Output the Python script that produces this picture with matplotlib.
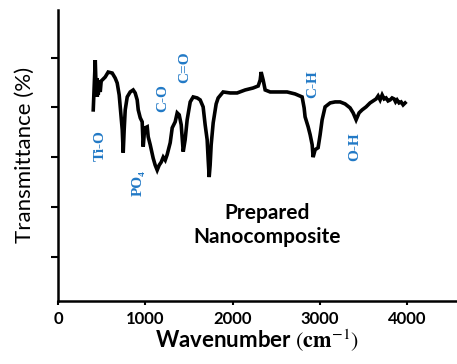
import matplotlib
matplotlib.use("Agg")
import matplotlib.pyplot as plt

# FTIR spectrum
wavenumber = [403, 426, 437, 443, 449, 455, 460, 471, 483, 494, 506, 540, 574, 620,
              654, 677, 700, 712, 735, 746, 757, 769, 792, 826, 860, 883, 906, 918,
              941, 963, 975, 986, 998, 1021, 1032, 1055, 1089, 1112, 1135, 1158, 1181,
              1204, 1227, 1249, 1284, 1307, 1341, 1364, 1387, 1410, 1433, 1455, 1478,
              1513, 1547, 1593, 1627, 1661, 1684, 1707, 1719, 1730, 1741, 1753, 1776,
              1810, 1833, 1890, 1970, 2050, 2142, 2233, 2291, 2314, 2325, 2348, 2371,
              2428, 2542, 2622, 2714, 2794, 2817, 2828, 2863, 2886, 2909, 2920, 2943,
              2977, 3000, 3023, 3057, 3115, 3172, 3229, 3286, 3343, 3378, 3412, 3446,
              3481, 3526, 3572, 3641, 3664, 3687, 3710, 3733, 3755, 3778, 3801, 3824,
              3847, 3864, 3881, 3904, 3927, 3950, 3973]
transmittance = [3.95, 4.95, 4.31, 4.59, 4.21, 4.55, 4.25, 4.51, 4.31, 4.53, 4.55, 4.61,
                 4.71, 4.69, 4.59, 4.49, 4.25, 4.01, 3.55, 3.09, 3.55, 3.95, 4.21, 4.31,
                 4.35, 4.29, 4.15, 3.95, 3.79, 3.71, 3.21, 3.45, 3.59, 3.61, 3.41, 3.25,
                 2.98, 2.84, 2.74, 2.84, 2.90, 3.00, 2.94, 3.05, 3.29, 3.59, 3.71, 3.89,
                 3.85, 3.65, 3.11, 3.35, 3.75, 4.11, 4.21, 4.19, 4.15, 4.01, 3.65, 3.35,
                 2.94, 2.60, 2.84, 3.25, 3.69, 4.07, 4.19, 4.31, 4.29, 4.29, 4.35, 4.39,
                 4.43, 4.55, 4.71, 4.55, 4.35, 4.31, 4.31, 4.31, 4.27, 4.21, 3.99, 3.81,
                 3.61, 3.45, 3.25, 3.00, 3.15, 3.19, 3.45, 3.75, 4.01, 4.09, 4.11, 4.11,
                 4.07, 3.99, 3.89, 3.75, 3.89, 3.95, 4.01, 4.09, 4.17, 4.23, 4.15, 4.25,
                 4.17, 4.19, 4.13, 4.15, 4.19, 4.17, 4.11, 4.15, 4.09, 4.11, 4.05, 4.09]

band_labels = ["Ti-O", "PO\u2084", "C-O", "C=O", "C-H", "O-H"]
band_x = [483, 918, 1204, 1455, 2920, 3400]
band_y = [3.23, 2.48, 4.19, 4.81, 4.47, 3.21]

x_ticks = [0, 1000, 2000, 3000, 4000]
y_ticks = [1, 2, 3, 4, 5]

plt.rcParams["mathtext.fontset"] = "stix"

fig = plt.figure(figsize=(4.57, 3.64), dpi=100)
ax = fig.add_axes([0.127, 0.173, 0.873, 0.8])

ax.plot(wavenumber, transmittance, color="black", linewidth=2.6, solid_joinstyle="miter")

for lab, bx, by in zip(band_labels, band_x, band_y):
    ax.text(bx, by, lab, rotation=90, ha="center", va="center", color="#2179c6",
            fontsize=11, fontweight="bold", family=["Liberation Serif", "DejaVu Serif"])

ax.text(2393, 1.64, "Prepared\nNanocomposite", ha="center", va="center",
        fontsize=15, fontweight="bold", family="Lato", linespacing=1.25)

ax.set_xlim(0, 4567)
ax.set_ylim(0.11, 5.96)
ax.set_xticks(x_ticks)
ax.set_yticks(y_ticks)
ax.set_yticklabels([])
for lab in ax.get_xticklabels():
    lab.set_family("Lato")
    lab.set_fontweight("bold")
    lab.set_fontsize(12)

ax.tick_params(axis="x", length=3, width=1.5, pad=4)
ax.tick_params(axis="y", length=5, width=1.5)
ax.spines["top"].set_visible(False)
ax.spines["right"].set_visible(False)
ax.spines["left"].set_linewidth(1.8)
ax.spines["bottom"].set_linewidth(1.8)

ax.set_xlabel("Wavenumber $(\\mathbf{cm}^{-1})$", fontsize=16, family="Lato",
              fontweight="bold", labelpad=1)
ax.set_ylabel("Transmittance (%)", fontsize=16, family="Lato", labelpad=8)

fig.savefig("out.png", dpi=100)
